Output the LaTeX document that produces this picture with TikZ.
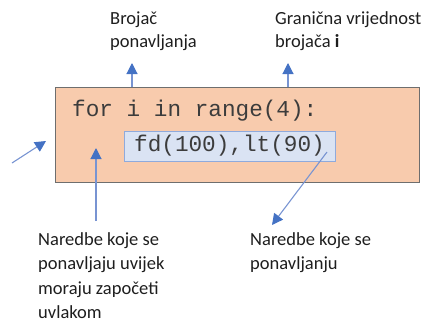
\documentclass[tikz,border=0pt]{standalone}
\usepackage{fontspec}
\setmainfont{Carlito}
\newfontfamily\codefont{Liberation Mono}
\usetikzlibrary{arrows.meta}
\definecolor{boxorange}{RGB}{248,203,173}
\definecolor{boxborder}{RGB}{110,110,110}
\definecolor{bluefill}{RGB}{218,227,243}
\definecolor{blueborder}{RGB}{143,170,220}
\definecolor{arrline}{RGB}{120,148,210}
\definecolor{arrhead}{RGB}{68,114,196}
\definecolor{codegray}{RGB}{60,60,60}
\definecolor{labelgray}{RGB}{30,30,30}
\tikzset{
  label text/.style={anchor=base west, inner sep=0pt, align=left, text=labelgray,
    font=\fontsize{18.5}{23.5}\selectfont},
  label text low/.style={label text, font=\fontsize{18.5}{24.5}\selectfont},
  code/.style={inner sep=0pt, text=codegray, font=\codefont\fontsize{22.7}{26}\selectfont},
  pointer/.style={draw=arrline, line width=1.1pt,
    -{Triangle[length=11pt,width=11pt,color=arrhead]}}
}
\begin{document}
\begin{tikzpicture}[x=1pt,y=-1pt]
\useasboundingbox (0,0) rectangle (429,322);
% outer loop box
\node[draw=boxborder, fill=boxorange, line width=1pt, minimum width=364pt,
  minimum height=95pt, inner sep=0pt, anchor=north west] (loop) at (55,87) {};
\node[code, anchor=base west] (forline) at (72,116) {for i in range(4):};
% inner body box
\node[draw=blueborder, fill=bluefill, line width=1pt, minimum width=211pt,
  minimum height=30pt, inner sep=0pt] (body) at (229.5,146)
  {\codefont\fontsize{22.7}{26}\selectfont\color{codegray}fd(100),lt(90)};
% labels (anchored at the baseline of their last line)
\node[label text] (counter) at (110,47.5) {Brojač\\ponavljanja};
\node[label text] (limit) at (275,47.5) {Granična vrijednost\\brojača \textbf{i}};
\node[label text low] (indent) at (38,318.5) {Naredbe koje se\\ponavljaju uvijek\\moraju započeti\\uvlakom};
\node[label text low] (repeat) at (250,269.5) {Naredbe koje se\\ponavljanju};
% arrow end points
\coordinate (a1s) at (132,87);
\coordinate (a1t) at (132,63);
\coordinate (a2s) at (288,87);
\coordinate (a2t) at (288,63);
\coordinate (a3s) at (12,163);
\coordinate (a3t) at (46,141);
\coordinate (a4s) at (96,221);
\coordinate (a4t) at (96,148);
\coordinate (a5s) at (327,152);
\coordinate (a5t) at (272,225);
\draw[pointer] (a1s) -- (a1t);
\draw[pointer] (a2s) -- (a2t);
\draw[pointer] (a3s) -- (a3t);
\draw[pointer] (a4s) -- (a4t);
\draw[pointer] (a5s) -- (a5t);
\end{tikzpicture}
\end{document}
